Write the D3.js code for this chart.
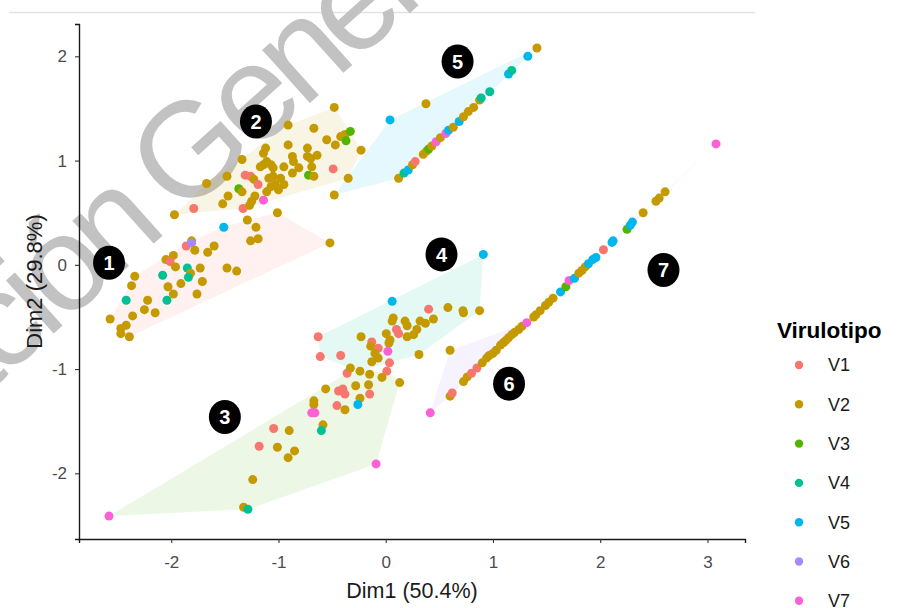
<!DOCTYPE html>
<html>
<head>
<meta charset="utf-8">
<script src="https://cdn.jsdelivr.net/npm/d3@7"></script>
<style>
  html, body { margin: 0; padding: 0; background: #fff; }
  svg { display: block; font-family: "Liberation Sans", Arial, sans-serif; }
</style>
</head>
<body>
<div id="chart"></div>
<script>
"use strict";

// legend groups and colours (ggplot hue palette)
const virulotipos = ["V1", "V2", "V3", "V4", "V5", "V6", "V7"];
const palette = ["#F8766D", "#C49A00", "#53B400", "#00C094", "#00B6EB", "#A58AFF", "#FB61D7"];

const xTicks = [-2, -1, 0, 1, 2, 3];
const yTicks = [-2, -1, 0, 1, 2];
const xDomain = [-2.86, 3.35];
const yDomain = [-2.63, 2.31];

// points per cluster: [Dim1, Dim2, virulotipo (1-7)]
const cluster1 = [
  [-1.01, 0.50, 2], [-0.52, 0.21, 2], [-1.51, 0.36, 5], [-1.29, 0.43, 2], [-1.21, 0.36, 2],
  [-1.26, 0.23, 2], [-1.19, 0.25, 2], [-1.81, 0.23, 2], [-1.86, 0.18, 1], [-1.81, 0.21, 6],
  [-1.78, 0.14, 2], [-1.66, 0.12, 2], [-1.60, 0.18, 2], [-1.98, 0.09, 2], [-2.05, 0.05, 2],
  [-2.01, 0.03, 1], [-1.96, -0.02, 2], [-1.85, -0.03, 4], [-1.73, -0.03, 2], [-1.82, -0.08, 2],
  [-1.84, -0.12, 4], [-2.08, -0.10, 4], [-1.48, -0.03, 2], [-1.39, -0.06, 2], [-2.34, -0.11, 2],
  [-2.37, -0.20, 2], [-1.91, -0.18, 2], [-1.71, -0.16, 2], [-2.03, -0.21, 2], [-1.98, -0.28, 2],
  [-1.76, -0.28, 2], [-2.42, -0.34, 4], [-2.22, -0.34, 2], [-2.04, -0.34, 4], [-2.25, -0.43, 2],
  [-2.15, -0.46, 2], [-2.36, -0.49, 2], [-2.57, -0.52, 2], [-2.42, -0.58, 2], [-2.47, -0.61, 2],
  [-2.47, -0.66, 2], [-2.39, -0.69, 2]
];
const cluster2 = [
  [-1.97, 0.48, 2], [-1.79, 0.54, 1], [-1.67, 0.78, 2], [-1.52, 0.585, 2], [-1.47, 0.66, 2],
  [-1.48, 0.85, 2], [-1.37, 0.73, 3], [-1.34, 0.70, 2], [-1.34, 1.01, 2], [-1.33, 0.54, 1],
  [-1.27, 0.57, 2], [-1.22, 0.66, 2], [-1.25, 0.61, 2], [-1.31, 0.86, 1], [-1.26, 0.85, 1],
  [-1.23, 0.82, 2], [-1.19, 0.77, 1], [-1.14, 0.96, 2], [-1.12, 1.12, 2], [-1.14, 1.07, 2],
  [-1.07, 0.96, 2], [-1.05, 0.93, 2], [-1.05, 0.85, 2], [-1.09, 0.83, 2], [-0.98, 0.83, 2],
  [-0.95, 0.94, 2], [-0.95, 0.77, 2], [-1.03, 0.77, 2], [-1.07, 0.75, 2], [-1.00, 0.72, 2],
  [-1.11, 0.70, 2], [-1.11, 0.99, 2], [-1.17, 0.94, 2], [-0.91, 1.34, 2], [-0.91, 1.15, 2],
  [-0.87, 1.04, 2], [-0.81, 0.93, 2], [-0.87, 0.88, 2], [-0.86, 0.99, 2], [-0.73, 1.12, 2],
  [-0.70, 1.02, 2], [-0.64, 1.05, 2], [-0.73, 1.04, 2], [-0.67, 1.31, 2], [-0.69, 0.94, 2],
  [-0.72, 0.86, 3], [-0.67, 0.85, 2], [-0.55, 1.20, 2], [-0.47, 1.15, 2], [-0.42, 1.23, 2],
  [-0.38, 1.25, 2], [-0.37, 1.19, 3], [-0.33, 1.28, 3], [-0.48, 1.51, 2], [-0.23, 1.10, 2],
  [-0.35, 0.83, 2], [-0.49, 0.92, 1], [-1.14, 0.62, 7]
];
const cluster3 = [
  [0.01, -1.02, 1], [-0.15, -1.05, 2], [-0.36, -1.04, 1], [-0.035, -1.08, 2], [0.13, -1.13, 2],
  [-0.28, -1.16, 2], [-0.16, -1.15, 2], [-0.40, -1.19, 1], [-0.38, -1.24, 1], [-0.44, -1.21, 1],
  [-0.56, -1.19, 2], [-0.15, -1.24, 1], [-0.24, -1.28, 2], [-0.26, -1.34, 5], [-0.455, -1.35, 1],
  [-0.38, -1.39, 2], [-0.67, -1.305, 2], [-0.67, -1.34, 2], [-0.69, -1.42, 7], [-0.66, -1.42, 7],
  [-0.585, -1.535, 2], [-0.60, -1.59, 4], [-1.045, -1.57, 1], [-0.90, -1.59, 2], [-1.18, -1.74, 1],
  [-1.01, -1.75, 2], [-0.85, -1.785, 2], [-0.91, -1.85, 2], [-0.09, -1.91, 7], [-1.24, -2.06, 2],
  [-1.325, -2.325, 2], [-1.285, -2.345, 4], [-2.58, -2.41, 7]
];
const cluster4 = [
  [0.91, 0.10, 5], [0.06, -0.35, 5], [0.40, -0.425, 1], [0.58, -0.41, 2], [0.72, -0.44, 2],
  [0.725, -0.46, 2], [0.875, -0.44, 2], [0.07, -0.51, 2], [0.06, -0.54, 2], [0.18, -0.54, 2],
  [0.20, -0.585, 2], [0.32, -0.54, 2], [0.37, -0.56, 2], [0.445, -0.52, 2], [0.10, -0.62, 1],
  [0.12, -0.66, 1], [0.29, -0.62, 2], [0.26, -0.67, 2], [0.20, -0.69, 2], [0.005, -0.66, 2],
  [0.04, -0.72, 2], [0.03, -0.75, 2], [-0.23, -0.69, 2], [-0.63, -0.69, 1], [-0.61, -0.88, 1],
  [-0.42, -0.87, 1], [-0.13, -0.74, 1], [-0.14, -0.78, 2], [-0.07, -0.80, 1], [-0.10, -0.85, 2],
  [-0.07, -0.895, 2], [-0.13, -0.93, 2], [0.31, -0.86, 2], [0.035, -0.94, 1], [-0.33, -0.99, 2],
  [-0.24, -1.02, 2], [0.02, -0.83, 7]
];
const cluster5 = [
  [-0.48, 0.67, 2], [0.04, 1.39, 5], [0.375, 1.545, 2], [0.12, 0.83, 2], [0.17, 0.88, 4],
  [0.21, 0.91, 5], [0.25, 0.96, 2], [0.275, 0.99, 1], [0.35, 1.06, 2], [0.38, 1.09, 2],
  [0.40, 1.11, 3], [0.43, 1.14, 2], [0.47, 1.18, 7], [0.51, 1.22, 2], [0.56, 1.26, 7],
  [0.585, 1.29, 5], [0.63, 1.32, 2], [0.685, 1.375, 5], [0.725, 1.42, 2], [0.77, 1.47, 2],
  [0.82, 1.51, 2], [0.875, 1.58, 2], [0.89, 1.60, 4], [0.97, 1.66, 4], [1.145, 1.83, 5],
  [1.175, 1.865, 4], [1.325, 2.00, 5], [1.41, 2.08, 2]
];
const cluster6 = [
  [0.415, -1.42, 7], [0.60, -0.82, 2], [0.60, -1.26, 2], [0.62, -1.23, 1], [0.725, -1.12, 2],
  [0.76, -1.075, 2], [0.80, -1.04, 1], [0.85, -0.99, 1], [0.90, -0.94, 2], [0.94, -0.895, 2],
  [0.965, -0.87, 2], [1.00, -0.85, 2], [1.03, -0.82, 2], [1.07, -0.77, 2], [1.10, -0.745, 2],
  [1.12, -0.725, 2], [1.145, -0.70, 2], [1.175, -0.67, 2], [1.20, -0.65, 2], [1.24, -0.62, 2],
  [1.27, -0.59, 2], [1.315, -0.555, 7]
];
const cluster7 = [
  [1.38, -0.50, 2], [1.40, -0.48, 2], [1.44, -0.44, 2], [1.49, -0.39, 2], [1.52, -0.36, 2],
  [1.56, -0.32, 2], [1.63, -0.26, 5], [1.68, -0.21, 3], [1.71, -0.15, 7], [1.76, -0.13, 5],
  [1.80, -0.08, 2], [1.83, -0.055, 2], [1.86, -0.02, 2], [1.89, 0.01, 5], [1.93, 0.05, 5],
  [1.96, 0.07, 5], [2.03, 0.145, 1], [2.11, 0.215, 5], [2.12, 0.23, 5], [2.25, 0.34, 3],
  [2.28, 0.38, 5], [2.30, 0.41, 5], [2.40, 0.50, 2], [2.52, 0.61, 2], [2.55, 0.64, 2],
  [2.605, 0.70, 2], [3.08, 1.16, 7]
];
const clusters = [cluster1, cluster2, cluster3, cluster4, cluster5, cluster6, cluster7];

// numbered cluster badges
const clusterLabelX = [-2.58, -1.21, -1.50, 0.52, 0.67, 1.15, 2.59];
const clusterLabelY = [0.02, 1.375, -1.46, 0.10, 1.95, -1.14, -0.05];

const width = 904, height = 608;
const plot = { left: 79, right: 745, top: 24, bottom: 539 };

const svg = d3.select("#chart").append("svg")
  .attr("width", width)
  .attr("height", height);

const x = d3.scaleLinear().domain(xDomain).range([plot.left, plot.right]);
const y = d3.scaleLinear().domain(yDomain).range([plot.bottom, plot.top]);

// faint rule at the top of the page
svg.append("line")
  .attr("x1", 9).attr("x2", 755)
  .attr("y1", 12.5).attr("y2", 12.5)
  .attr("stroke", "#e2e2e2")
  .attr("stroke-width", 1.5);

// watermark (under the marks)
const wm = svg.append("g")
  .attr("transform", "translate(181,219) rotate(-42)")
  .attr("fill", "#c2c2c2")
  .style("font-size", "135px")
  .style("letter-spacing", "-8px");
wm.append("text").attr("x", -24).attr("text-anchor", "end").text("Publicación");
wm.append("text").attr("x", 0).attr("text-anchor", "start").text("Generada");

// hulls
const hulls = svg.append("g");
clusters.forEach(function(pts, i) {
  const hull = d3.polygonHull(pts.map(p => [x(p[0]), y(p[1])]));
  if (!hull) return;
  hulls.append("path")
    .attr("d", "M" + hull.join("L") + "Z")
    .attr("fill", palette[i])
    .attr("fill-opacity", 0.1)
    .attr("stroke", "none");
});

// points
const dots = svg.append("g");
clusters.forEach(function(pts) {
  dots.selectAll(null)
    .data(pts)
    .join("circle")
    .attr("cx", d => x(d[0]))
    .attr("cy", d => y(d[1]))
    .attr("r", 4.5)
    .attr("fill", d => palette[d[2] - 1]);
});

// axes
const xAxis = svg.append("g")
  .attr("transform", "translate(0," + plot.bottom + ")")
  .call(d3.axisBottom(x).tickValues(xTicks).tickSize(4).tickPadding(13).tickFormat(d3.format("d")));
const yAxis = svg.append("g")
  .attr("transform", "translate(" + plot.left + ",0)")
  .call(d3.axisLeft(y).tickValues(yTicks).tickSize(4).tickPadding(8).tickFormat(d3.format("d")));

[xAxis, yAxis].forEach(function(ax) {
  ax.attr("font-size", null).attr("font-family", null);
  ax.select(".domain").attr("stroke", "#1a1a1a").attr("stroke-width", 1.4);
  ax.selectAll(".tick line").attr("stroke", "#333").attr("stroke-width", 1.1);
  ax.selectAll(".tick text")
    .attr("fill", "#4d4d4d")
    .style("font-size", "17px")
    .text(d => d < 0 ? "-" + Math.abs(d) : d);
});

svg.append("text")
  .attr("x", (plot.left + plot.right) / 2)
  .attr("y", 598)
  .attr("text-anchor", "middle")
  .attr("fill", "#1a1a1a")
  .style("font-size", "21.5px")
  .text("Dim1 (50.4%)");

svg.append("text")
  .attr("transform", "translate(42," + (plot.top + plot.bottom) / 2 + ") rotate(-90)")
  .attr("text-anchor", "middle")
  .attr("fill", "#1a1a1a")
  .style("font-size", "22px")
  .text("Dim2 (29.8%)");

// cluster badges
const badges = svg.append("g");
clusterLabelX.forEach(function(cx, i) {
  const g = badges.append("g")
    .attr("transform", "translate(" + x(cx) + "," + y(clusterLabelY[i]) + ")");
  g.append("ellipse").attr("rx", 16).attr("ry", 17).attr("fill", "#000");
  g.append("text")
    .attr("text-anchor", "middle")
    .attr("dy", "0.36em")
    .attr("fill", "#fff")
    .style("font-size", "20px")
    .style("font-weight", "bold")
    .text(i + 1);
});

// legend
const legend = svg.append("g").attr("transform", "translate(777,0)");
legend.append("text")
  .attr("x", 0).attr("y", 338)
  .attr("fill", "#000")
  .style("font-size", "22.5px")
  .style("font-weight", "bold")
  .text("Virulotipo");
virulotipos.forEach(function(v, i) {
  const ly = 365 + i * 39.3;
  legend.append("circle")
    .attr("cx", 22).attr("cy", ly)
    .attr("r", 4.2)
    .attr("fill", palette[i]);
  legend.append("text")
    .attr("x", 51).attr("y", ly)
    .attr("dy", "0.36em")
    .attr("fill", "#1a1a1a")
    .style("font-size", "18px")
    .text(v);
});
</script>
</body>
</html>
